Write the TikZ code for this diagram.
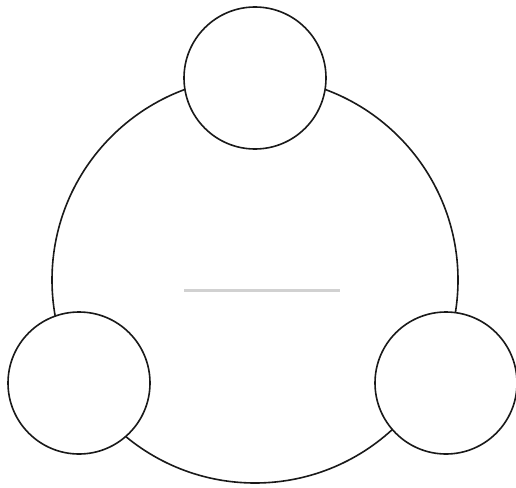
\documentclass[tikz,border=0pt]{standalone}
\usetikzlibrary{positioning}

\begin{document}
\begin{tikzpicture}[x=1pt,y=-1pt,
  ring/.style={circle,draw=black!90,line width=1.6pt,inner sep=0pt},
  satellite/.style={ring,fill=white,minimum size=142pt}]
  \useasboundingbox (0,0) rectangle (516,487);
  \node[ring,minimum size=406pt] (hub) at (255,280) {};
  \node[satellite] (top) at (255,78) {};
  \node[satellite] (left) at (79,383) {};
  \node[satellite] (right) at (446,383) {};
  \draw[black!18,line width=2.5pt] (184,290.5) -- (339.5,290.5);
\end{tikzpicture}
\end{document}
